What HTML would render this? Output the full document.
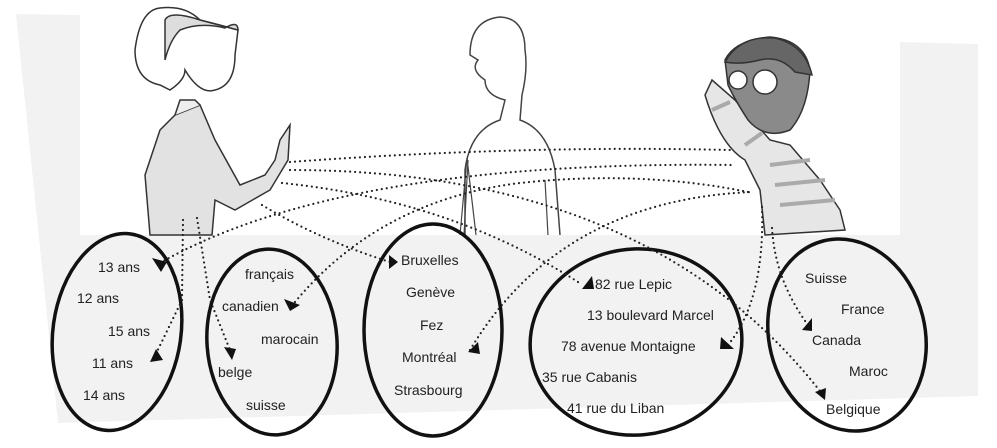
<!DOCTYPE html>
<html><head><meta charset="utf-8"><style>
html,body{margin:0;padding:0;background:#fff;width:997px;height:448px;overflow:hidden}
svg{display:block}
text{font-family:"Liberation Sans",sans-serif;font-size:14px;fill:#222}
</style></head><body>
<svg width="997" height="448" viewBox="0 0 997 448" xmlns="http://www.w3.org/2000/svg">
<polygon points="16,14 80,15 80,235 900,235 900,42 978,44 978,396 58,423" fill="#f2f2f2"/>
<rect x="80" y="0" width="820" height="235" fill="#fff"/>
<!-- girl -->
<g stroke="#333" stroke-width="1.5" fill="#e2e2e2">
<path d="M150,235 L145,175 L160,130 L175,115 L200,105 L215,140 L240,185 L265,175 L275,160 L280,140 L290,125 L288,160 L270,190 L235,210 L215,200 L212,235 Z"/>
<path d="M175,115 L180,100 L195,100 L200,105" fill="#eee"/>
<path d="M160,8 Q140,10 135,50 Q135,80 160,85 L170,90 Q185,80 185,70 Q200,95 215,90 Q235,85 235,55 L238,30 Q220,25 200,20 Q185,5 160,8 Z" fill="#fff"/>
<path d="M165,20 Q170,10 200,20 L238,30 Q238,20 225,28 Q200,22 180,30 Q170,40 165,60 Z" fill="#ddd"/>
</g>
<!-- silhouette -->
<path d="M465,235 L465,170 Q470,130 500,120 L505,100 Q485,95 485,80 Q470,70 478,60 L470,55 Q470,20 500,17 Q525,18 525,50 Q528,70 522,95 L520,120 Q548,130 555,170 L560,235" fill="#fff" stroke="#444" stroke-width="1.5"/>
<path d="M460,235 L467,158 L476,235 M464,235 L468,160 M545,180 L548,235" fill="none" stroke="#444" stroke-width="1.2"/>
<!-- boy -->
<g stroke="#333" stroke-width="1.5">
<path d="M765,235 L760,190 L745,160 Q720,145 705,95 L712,80 L735,100 L770,140 L790,145 L820,180 L840,210 L845,230 Z" fill="#e6e6e6"/>
<path d="M725,60 Q735,40 770,37 Q805,40 810,70 Q808,110 790,130 Q765,140 748,120 Q735,100 728,85 Z" fill="#8a8a8a"/>
<path d="M725,62 Q740,35 775,38 Q805,45 812,75 L795,72 Q780,55 760,60 Q740,65 725,62 Z" fill="#666"/>
<circle cx="738" cy="80" r="9" fill="#fff"/><circle cx="765" cy="82" r="12" fill="#fff"/>
</g>
<g stroke="#aaa" stroke-width="4"><line x1="712" y1="110" x2="730" y2="102"/><line x1="745" y1="145" x2="762" y2="133"/><line x1="770" y1="165" x2="810" y2="160"/><line x1="775" y1="185" x2="825" y2="180"/><line x1="780" y1="205" x2="835" y2="200"/></g>
<!-- ellipses -->
<g fill="none" stroke="#111" stroke-width="3.5">
<ellipse cx="117" cy="332" rx="64" ry="99" transform="rotate(8 117 332)"/>
<ellipse cx="272" cy="342" rx="65" ry="93" transform="rotate(-4 272 342)"/>
<ellipse cx="433" cy="330" rx="69" ry="106"/>
<ellipse cx="636" cy="342" rx="106" ry="93" transform="rotate(-6 636 342)"/>
<ellipse cx="847" cy="335" rx="78" ry="97" transform="rotate(-14 847 335)"/>
</g>
<!-- dotted connectors -->
<g fill="none" stroke="#222" stroke-width="2.2" stroke-linecap="round" stroke-dasharray="0 5">
<path d="M290,162 Q520,145 730,150"/>
<path d="M160,263 Q340,160 735,165"/>
<path d="M295,302 Q380,200 520,183 Q640,170 748,192"/>
<path d="M262,205 Q320,240 390,262"/>
<path d="M282,183 Q450,200 578,282"/>
<path d="M290,170 Q650,170 823,395"/>
<path d="M470,350 Q560,200 752,192"/>
<path d="M183,220 L182,300 L152,362"/>
<path d="M197,218 L210,300 L232,355"/>
<path d="M762,207 Q765,300 728,345"/>
<path d="M772,228 Q775,280 808,325"/>
</g>
<g fill="#111">
<polygon points="152,258 167,262 161,272"/>
<polygon points="150,362 156,349 163,360"/>
<polygon points="284,299 300,305 290,311"/>
<polygon points="232,360 224,347 236,349"/>
<polygon points="398,262 389,255 389,269"/>
<polygon points="468,352 478,342 480,354"/>
<polygon points="582,289 592,276 594,289"/>
<polygon points="734,349 721,337 720,349"/>
<polygon points="802,330 812,318 812,331"/>
<polygon points="825,400 815,392 826,388"/>
</g>
<text x="98" y="272">13 ans</text><text x="77" y="303">12 ans</text><text x="108" y="336">15 ans</text><text x="92" y="368">11 ans</text><text x="83" y="400">14 ans</text>
<text x="245" y="279">français</text><text x="222" y="311">canadien</text><text x="261" y="344">marocain</text><text x="218" y="377">belge</text><text x="246" y="410">suisse</text>
<text x="401" y="265">Bruxelles</text><text x="406" y="297">Genève</text><text x="420" y="330">Fez</text><text x="402" y="362">Montréal</text><text x="394" y="395">Strasbourg</text>
<text x="595" y="289">82 rue Lepic</text><text x="587" y="320">13 boulevard Marcel</text><text x="561" y="351">78 avenue Montaigne</text><text x="542" y="382">35 rue Cabanis</text><text x="567" y="413">41 rue du Liban</text>
<text x="805" y="283">Suisse</text><text x="841" y="314">France</text><text x="812" y="345">Canada</text><text x="849" y="376">Maroc</text><text x="826" y="414">Belgique</text>
</svg>
</body></html>
